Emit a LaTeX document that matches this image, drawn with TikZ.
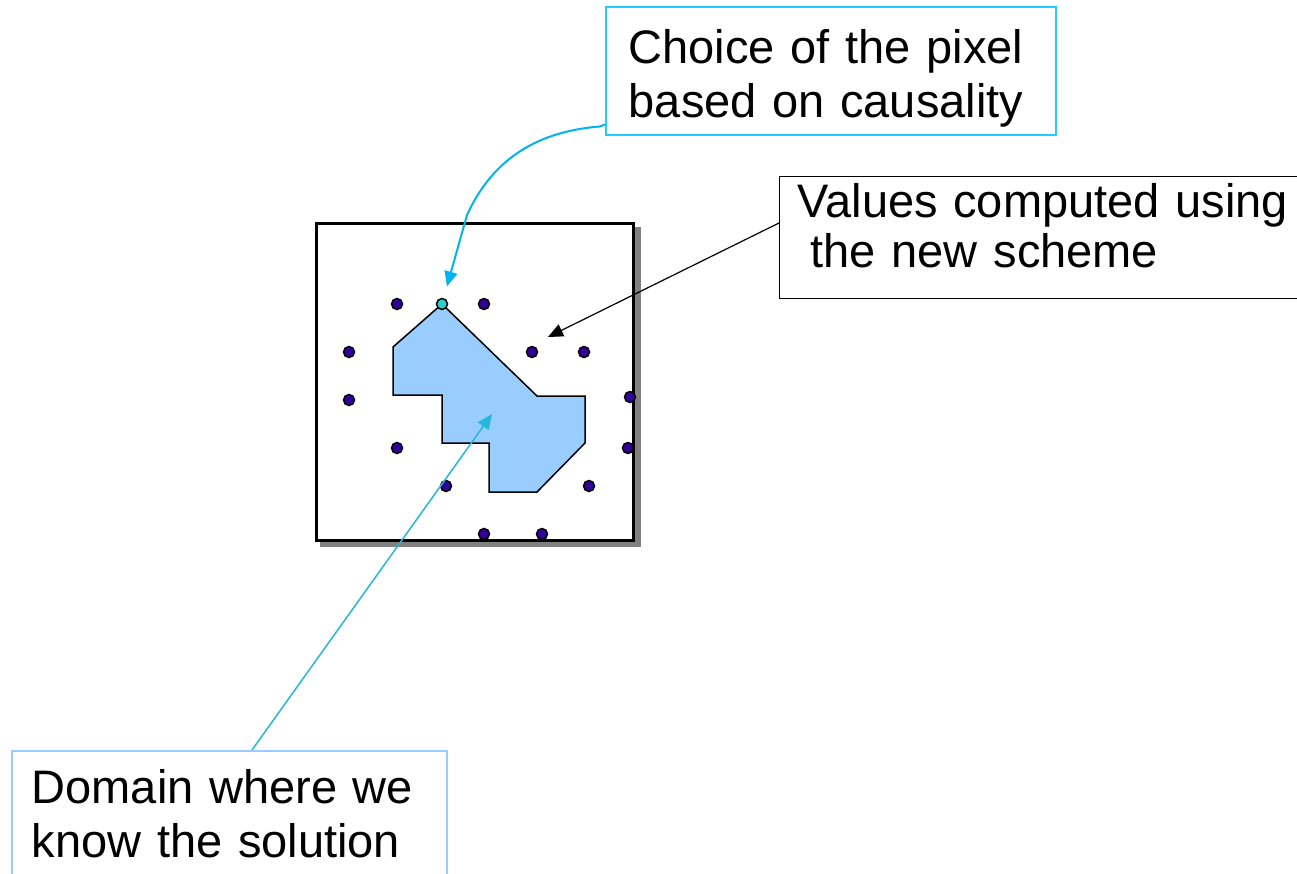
\documentclass[tikz,border=0pt]{standalone}
\usepackage{fontspec}
\setmainfont{Liberation Sans}
\usetikzlibrary{arrows.meta}
\definecolor{framecyan}{HTML}{22CCFF}
\definecolor{curvecyan}{HTML}{00B4F0}
\definecolor{linecyan}{HTML}{26B8DC}
\definecolor{paleblue}{HTML}{99CCFF}
\definecolor{indigodot}{HTML}{330099}
\definecolor{tealdot}{HTML}{33CCCC}

\begin{document}
\begin{tikzpicture}[x = 1pt, y = -1pt,
        textbox/.style = {draw, anchor = north west, align = left, inner ysep = 0pt,
            font = \fontsize{47}{54}\selectfont},
        gridpt/.style = {circle, draw, line width = 1.5pt, fill = indigodot,
            inner sep = 0pt, minimum size = 11pt},
        pointer/.style = {-{Triangle[length = 15pt, width = 13pt]}}]
    \path[use as bounding box, clip] (0, 0) rectangle (1297, 873);
    % square with its shadow
    \fill[gray] (320, 227) rectangle (641, 547);
    \draw[line width = 3pt, fill = white] (316, 223) rectangle (633, 540);
    \draw[line width = 1.5pt, fill = paleblue] (442, 304) -- (393, 347) -- (393, 395) -- (442, 395)
        -- (442, 443) -- (489, 443) -- (489, 492) -- (537, 492) -- (585, 443) -- (585, 396)
        -- (537, 396) -- cycle;
    \foreach \x/\y [count = \i] in {397/304, 484/304, 349/352, 532/352, 584/352, 349/400, 630/397,
            397/448, 628/448, 446/486, 589/486, 484/534, 542/534}
        \node[gridpt] (g\i) at (\x, \y) {};
    \node[gridpt, fill = tealdot] (pick) at (442, 304) {};
    \coordinate (known) at (492, 414);
    \coordinate (newval) at (548, 337);
    % labels
    \node[textbox, draw = framecyan, line width = 1.5pt, inner xsep = 23pt, text width = 404pt,
        text height = 57pt, text depth = 71pt] (choice) at (605, 6)
        {Choice of the pixel\\based on causality};
    \node[textbox, line width = 1.2pt, inner xsep = 18pt, text width = 520pt,
        text height = 41pt, text depth = 81pt, font = \fontsize{47}{50}\selectfont] (values) at (779, 176)
        {Values computed using\\\hspace*{.278em}the new scheme};
    \node[textbox, draw = paleblue, line width = 1.5pt, inner xsep = 20pt, text width = 395pt,
        text height = 53pt, text depth = 130pt] (domain) at (11, 750)
        {Domain where we\\know the solution};
    % pointers
    \draw[pointer, curvecyan, line width = 2pt, shorten > = 12pt] ([yshift = 11pt]choice.south west)
        -- ++(-5, 2) .. controls (530, 132) and (490, 165) .. (467, 215) -- (pick);
    \draw[pointer, line width = 1.2pt] ([yshift = -47pt]values.north west) -- (newval);
    \draw[pointer, linecyan, line width = 1.5pt] ([xshift = 241pt]domain.north west) -- (known);
\end{tikzpicture}
\end{document}
